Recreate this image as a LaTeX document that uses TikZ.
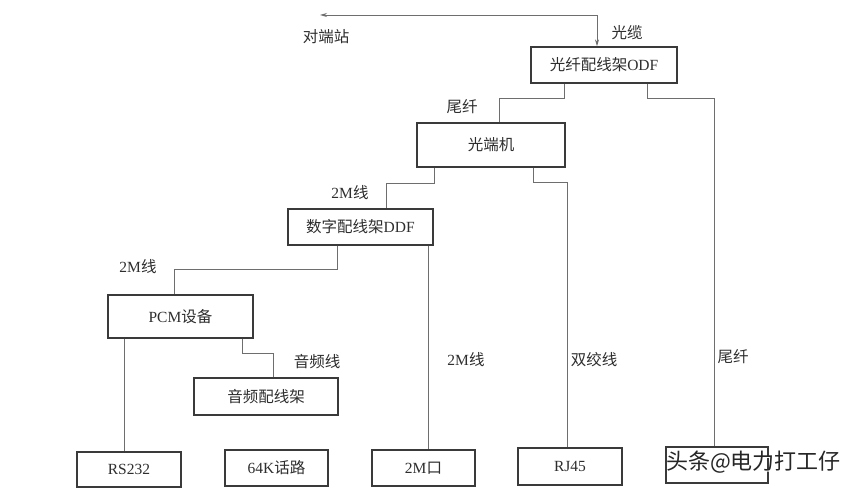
\documentclass[tikz,border=0pt]{standalone}
\usepackage{fontspec}
\setmainfont{Liberation Serif}
\newfontfamily\cjk{Noto Sans CJK SC}
\usetikzlibrary{arrows.meta}
\definecolor{boxline}{HTML}{3A3A3A}
\definecolor{wire}{HTML}{6E6E6E}
\definecolor{txt}{HTML}{2E2E2E}
\begin{document}
\begin{tikzpicture}[x=1pt,y=-1pt,
  box/.style={draw=boxline,line width=1.3pt,fill=white,inner sep=0pt,text=txt,font=\fontsize{15.5pt}{18pt}\selectfont},
  wirel/.style={draw=wire,line width=0.9pt},
  lbl/.style={text=txt,inner sep=0pt,font=\fontsize{15.5pt}{18pt}\selectfont},
  biarrow/.style={{Stealth[length=7pt,width=4pt]}-{Stealth[length=7pt,width=4pt]}}
]
\useasboundingbox[fill=white] (0,0) rectangle (860,489);

% boxes
\node[box,minimum width=146pt,minimum height=36pt] (odf) at (604,65) {{\cjk 光纤配线架}ODF};
\node[box,minimum width=148pt,minimum height=44pt] (oe) at (491,145) {\cjk 光端机};
\node[box,minimum width=145pt,minimum height=36pt] (ddf) at (360.5,227) {{\cjk 数字配线架}DDF};
\node[box,minimum width=145pt,minimum height=43pt] (pcm) at (180.5,316.5) {PCM{\cjk 设备}};
\node[box,minimum width=144pt,minimum height=37pt] (af) at (266,396.5) {\cjk 音频配线架};
\node[box,minimum width=104pt,minimum height=35pt] (rs) at (129,469.5) {RS232};
\node[box,minimum width=103pt,minimum height=36pt] (k64) at (276.5,468) {64K{\cjk 话路}};
\node[box,minimum width=103pt,minimum height=36pt] (m2) at (423.5,468) {2M{\cjk 口}};
\node[box,minimum width=104pt,minimum height=37pt] (rj) at (570,466.5) {RJ45};
\node[box,minimum width=102pt,minimum height=36pt] (last) at (717,465) {};

\coordinate (far) at (320,15);
\coordinate (odfin) at ([xshift=-7pt]odf.north);

% connectors
\draw[wirel,biarrow] (far) -| (odfin);
\draw[wirel] ([xshift=-40pt]odf.south) -- ++(0,15) -| ([xshift=8pt]oe.north);
\draw[wirel] ([xshift=43pt]odf.south) -- ++(0,15) -| ([xshift=-3pt]last.north);
\draw[wirel] ([xshift=-57pt]oe.south) -- ++(0,16) -| ([xshift=25.5pt]ddf.north);
\draw[wirel] ([xshift=42pt]oe.south) -- ++(0,15) -| ([xshift=-3pt]rj.north);
\draw[wirel] ([xshift=-23.5pt]ddf.south) -- ++(0,24) -| ([xshift=-6.5pt]pcm.north);
\draw[wirel] ([xshift=68pt]ddf.south) -- ([xshift=5pt]m2.north);
\draw[wirel] ([xshift=-56.5pt]pcm.south) -- ([xshift=-5pt]rs.north);
\draw[wirel] ([xshift=61.5pt]pcm.south) -- ++(0,15) -| ([xshift=7pt]af.north);

% labels
\node[lbl] (l0) at (326,37) {\cjk 对端站};
\node[lbl] (l1) at (627,33) {\cjk 光缆};
\node[lbl] (l2) at (462,107) {\cjk 尾纤};
\node[lbl] (l3) at (350,193) {2M{\cjk 线}};
\node[lbl] (l4) at (138,267) {2M{\cjk 线}};
\node[lbl] (l5) at (317,362) {\cjk 音频线};
\node[lbl] (l6) at (466,360) {2M{\cjk 线}};
\node[lbl] (l7) at (594,360) {\cjk 双绞线};
\node[lbl] (l8) at (733,357) {\cjk 尾纤};

% watermark
\node[inner sep=0pt,text=white,font=\cjk\fontsize{22pt}{25pt}\selectfont] (wms) at (755,463.5) {头条@电力打工仔};
\node[inner sep=0pt,text=black!85,font=\cjk\fontsize{22pt}{25pt}\selectfont] (wm) at (753.5,462) {头条@电力打工仔};
\end{tikzpicture}
\end{document}
